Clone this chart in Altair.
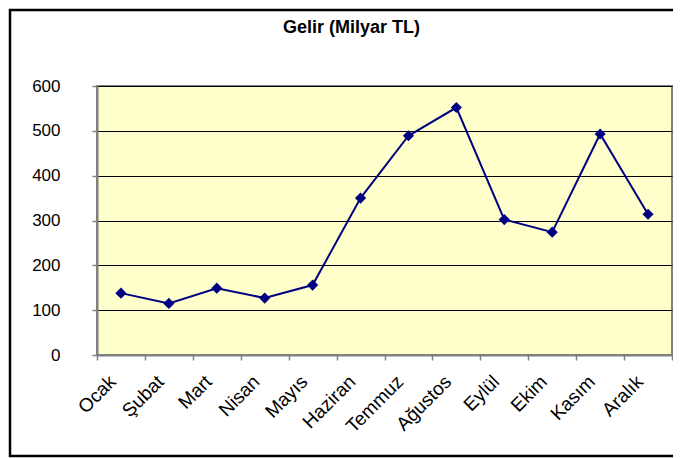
import altair as alt
import pandas as pd

months = ["Ocak", "Şubat", "Mart", "Nisan", "Mayıs", "Haziran",
          "Temmuz", "Ağustos", "Eylül", "Ekim", "Kasım", "Aralık"]
gelir = [138, 115, 149, 127, 156, 350, 489, 552, 302, 274, 493, 314]
y_ticks = [0, 100, 200, 300, 400, 500, 600]
title_text = "Gelir (Milyar TL)"

df = pd.DataFrame({"Ay": months, "Gelir": gelir})

W, H = 575, 269
FONT = "Liberation Sans"

x_enc = alt.X("Ay:N", sort=months,
              scale=alt.Scale(type="band", paddingInner=0, paddingOuter=0),
              axis=alt.Axis(title=None, labelAngle=-45, labelAlign="right",
                            labelBaseline="top", labelFontSize=19, labelFont=FONT,
                            labelColor="black", labelPadding=12, labelOffset=-15,
                            tickBand="extent", tickSize=5, tickColor="#808080",
                            tickWidth=1.5, domainColor="#808080", domainWidth=2,
                            grid=False))
y_enc = alt.Y("Gelir:Q",
              scale=alt.Scale(domain=[0, 600], nice=False, zero=True),
              axis=alt.Axis(title=None, values=y_ticks, labelFontSize=17,
                            labelFont=FONT, labelColor="black", labelPadding=32,
                            tickSize=5, tickColor="#808080", tickWidth=1.5,
                            domainColor="#808080", domainWidth=2,
                            grid=True, gridColor="black", gridWidth=1))

border = alt.Chart(alt.Data(values=[{}])).mark_rect(
    fill=None, stroke="black", strokeWidth=2.5
).encode(
    x=alt.value(-87), x2=alt.value(W + 80),
    y=alt.value(-76), y2=alt.value(370)
)

line = alt.Chart(df).mark_line(color="#000080", strokeWidth=2).encode(x=x_enc, y=y_enc)
pts = alt.Chart(df).mark_point(shape="diamond", filled=True, size=125,
                               color="#000080", opacity=1).encode(x=x_enc, y=y_enc)

chart = alt.layer(border, line, pts).properties(
    width=W, height=H,
    title=alt.TitleParams(title_text, font=FONT, fontSize=18, fontWeight="bold",
                          color="black", anchor="middle", frame="group",
                          dx=-33, offset=-28),
    autosize=alt.AutoSizeParams(type="none"),
    padding={"left": 89, "top": 78, "right": 1, "bottom": 103},
).configure(background="white").configure_view(
    fill="#FFFFCC", stroke="#808080", strokeWidth=2
)

chart.save("out.html", embed_options={"renderer": "svg", "actions": False})
